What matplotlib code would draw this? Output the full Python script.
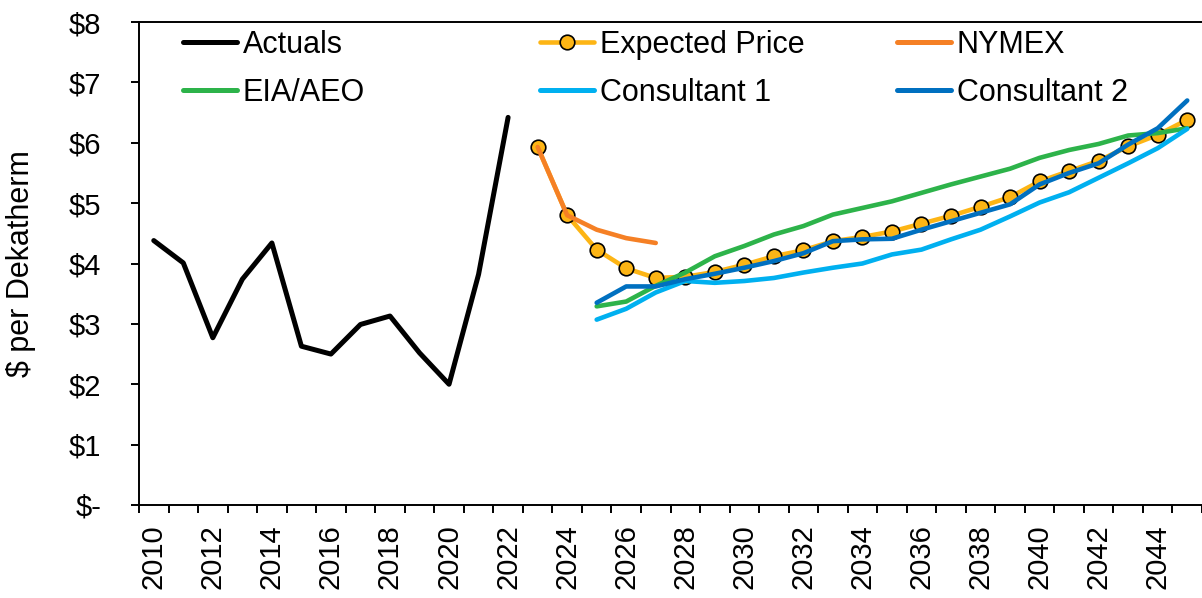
import numpy as np
import matplotlib
matplotlib.use('Agg')
import matplotlib.pyplot as plt
from matplotlib.lines import Line2D

# categories (one per year) and series values, $ per dekatherm
years = list(range(2010, 2046))
actual_years = list(range(2010, 2023))
actuals = [4.38, 4.01, 2.77, 3.74, 4.34, 2.63, 2.50, 2.99, 3.13, 2.52, 2.00, 3.82, 6.42]

expected_years = list(range(2023, 2046))
expected = [5.93, 4.80, 4.23, 3.92, 3.76, 3.78, 3.86, 3.98, 4.12, 4.22, 4.37, 4.44,
            4.53, 4.66, 4.79, 4.94, 5.10, 5.36, 5.53, 5.70, 5.94, 6.13, 6.38]

nymex_years = list(range(2023, 2028))
nymex = [5.93, 4.80, 4.56, 4.42, 4.34]

fcst_years = list(range(2025, 2046))
eia = [3.29, 3.37, 3.63, 3.85, 4.12, 4.29, 4.48, 4.62, 4.81, 4.92, 5.03, 5.17,
       5.31, 5.44, 5.57, 5.75, 5.88, 5.98, 6.12, 6.16, 6.24]
cons1 = [3.07, 3.25, 3.52, 3.71, 3.68, 3.71, 3.76, 3.85, 3.93, 4.00, 4.15, 4.23,
         4.40, 4.56, 4.78, 5.01, 5.18, 5.42, 5.66, 5.91, 6.23]
cons2 = [3.35, 3.62, 3.62, 3.74, 3.83, 3.93, 4.04, 4.17, 4.37, 4.40, 4.41, 4.56,
         4.70, 4.84, 4.98, 5.31, 5.50, 5.66, 5.97, 6.24, 6.70]

y_ticks = [0, 1, 2, 3, 4, 5, 6, 7, 8]
y_labels = ['$-', '$1', '$2', '$3', '$4', '$5', '$6', '$7', '$8']

plt.rcParams['font.family'] = ['Liberation Sans', 'DejaVu Sans']
TICK_FS = 21
FS = 22

def pos(yrs):
    return [y - years[0] for y in yrs]

fig = plt.figure(figsize=(12.02, 5.98), dpi=100)
ax = fig.add_axes([139/1202, 1 - 505/598, 1 - 139/1202, (505 - 22)/598])

style = dict(solid_capstyle='round', solid_joinstyle='round')
ax.plot(pos(expected_years), expected, color='#FDB515', lw=3.3, marker='o', ms=10.5,
        mfc='#FDB515', mec='black', mew=1.2, zorder=2, **style)
ax.plot(pos(fcst_years), eia, color='#2DB34A', lw=3.3, zorder=3, **style)
ax.plot(pos(fcst_years), cons1, color='#00B0F0', lw=3.3, zorder=4, **style)
ax.plot(pos(fcst_years), cons2, color='#0070C0', lw=3.3, zorder=5, **style)
ax.plot(pos(nymex_years), nymex, color='#F58025', lw=3.3, zorder=6, **style)
ax.plot(pos(actual_years), actuals, color='black', lw=3.6, zorder=7, **style)

ax.set_xlim(-0.5, len(years) - 0.5)
ax.set_ylim(0, 8)

# category axis: tick marks between categories, labels on every other year
ax.set_xticks(np.arange(-0.5, len(years), 1.0))
ax.set_xticklabels([])
ax.set_xticks(np.arange(0, len(years), 2), minor=True)
ax.set_xticklabels([str(y) for y in years[::2]], minor=True, rotation=90, fontsize=TICK_FS)
ax.tick_params(axis='x', which='major', direction='out', length=6, width=1.4)
ax.tick_params(axis='x', which='minor', length=0, pad=14)

ax.set_yticks(y_ticks)
ax.set_yticklabels(y_labels, fontsize=TICK_FS)
ax.tick_params(axis='y', direction='out', length=6, width=1.4, pad=21)
ax.set_ylabel('$ per Dekatherm', fontsize=FS)
ax.yaxis.set_label_coords(-103/1063, 0.5)

for s in ['left', 'bottom', 'top']:
    ax.spines[s].set_linewidth(1.4)
ax.spines['right'].set_visible(False)

def handle(color, marker=None):
    if marker:
        return Line2D([], [], color=color, lw=3.3, marker='o', ms=10.5, mfc=color,
                      mec='black', mew=1.2, solid_capstyle='round')
    return Line2D([], [], color=color, lw=3.6, solid_capstyle='round')

columns = [
    ([handle('black'), handle('#2DB34A')], ['Actuals', 'EIA/AEO'], 183),
    ([handle('#FDB515', True), handle('#00B0F0')], ['Expected Price', 'Consultant 1'], 540),
    ([handle('#F58025'), handle('#0070C0')], ['NYMEX', 'Consultant 2'], 897),
]
for hs, labels, xpix in columns:
    fig.legend(hs, labels, loc='upper left', bbox_to_anchor=(xpix/1202, 1 - 30/598),
               frameon=False, fontsize=FS, handlelength=1.76, handletextpad=0.2,
               borderpad=0, borderaxespad=0, labelspacing=0.58)

fig.savefig('out.png', dpi=100)
